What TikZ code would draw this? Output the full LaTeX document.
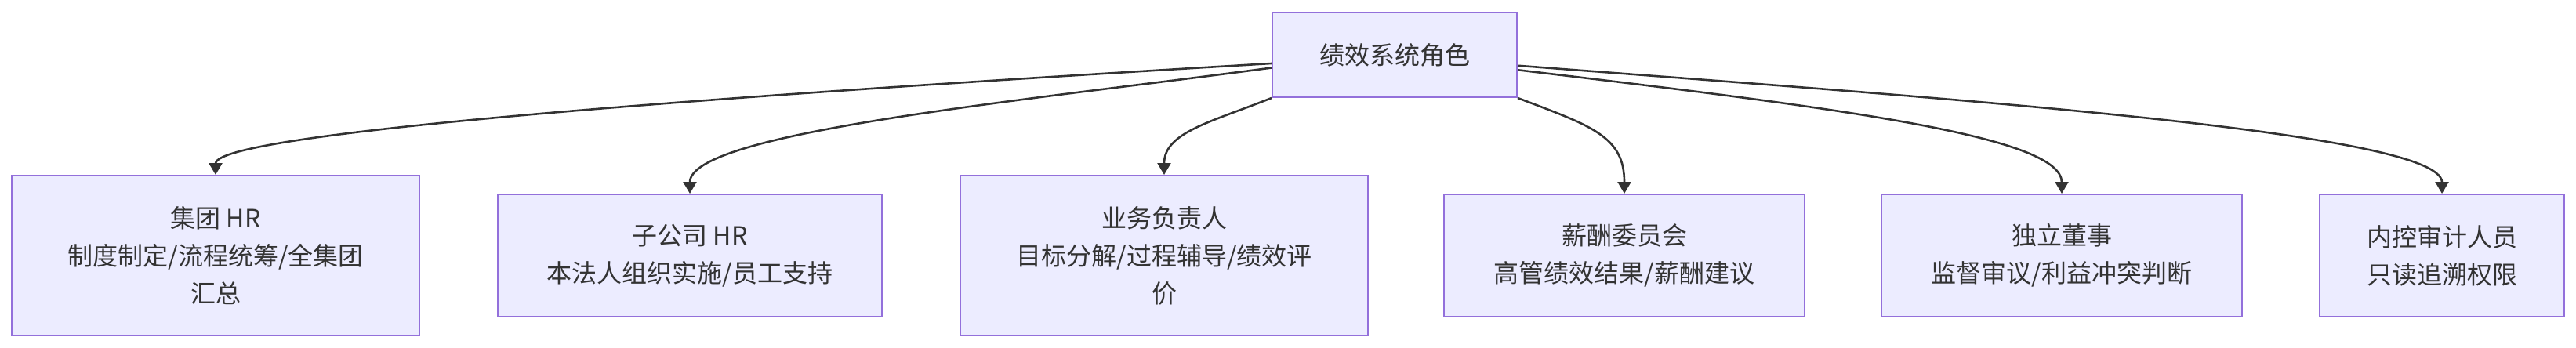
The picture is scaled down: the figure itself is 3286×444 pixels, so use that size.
\documentclass[tikz,border=0pt]{standalone}
\usepackage{fontspec}
\newfontfamily\cjk{Noto Sans CJK SC}
\usetikzlibrary{arrows.meta}
\definecolor{rolebg}{HTML}{ECECFF}
\definecolor{rolebd}{HTML}{9370DB}
\definecolor{ink}{HTML}{333333}
\begin{document}
\begin{tikzpicture}[x=.5pt, y=-.5pt,
  role/.style={draw=rolebd, fill=rolebg, line width=1pt, text=ink, align=center,
    font=\cjk\fontsize{16}{24}\selectfont, inner sep=0pt, minimum height=78pt},
  link/.style={draw=ink, line width=1.3pt, -{Triangle[length=7.5pt,width=8.5pt]}}]
  \useasboundingbox (0,0) rectangle (3286,444);
  \node[role, minimum width=156pt, minimum height=54pt] (R) at (1779,70) {绩效系统角色};
  \node[role, minimum width=260pt, minimum height=102pt] (H) at (275,326) {集团 HR\\制度制定/流程统筹/全集团\\汇总};
  \node[role, minimum width=245pt] (S) at (880,326) {子公司 HR\\本法人组织实施/员工支持};
  \node[role, minimum width=260pt, minimum height=102pt] (B) at (1485,326) {业务负责人\\目标分解/过程辅导/绩效评\\价};
  \node[role, minimum width=230pt] (C) at (2072,326) {薪酬委员会\\高管绩效结果/薪酬建议};
  \node[role, minimum width=230pt] (D) at (2630,326) {独立董事\\监督审议/利益冲突判断};
  \node[role, minimum width=156pt] (A) at (3115,326) {内控审计人员\\只读追溯权限};
  \draw[link] (R.184) .. controls +(-523,31) and +(0,-59) .. (H.north);
  \draw[link] (R.186.5) .. controls +(-323,43) and +(0,-78) .. (S.north);
  \draw[link] (R.south west) .. controls +(-78,31) and +(0,-54) .. (B.north);
  \draw[link] (R.south east) .. controls +(95,36) and +(0,-73) .. (C.north);
  \draw[link] (R.353) .. controls +(415,49) and +(0,-73) .. (D.north);
  \draw[link] (R.355.6) .. controls +(565,43) and +(0,-78) .. (A.north);
\end{tikzpicture}
\end{document}
